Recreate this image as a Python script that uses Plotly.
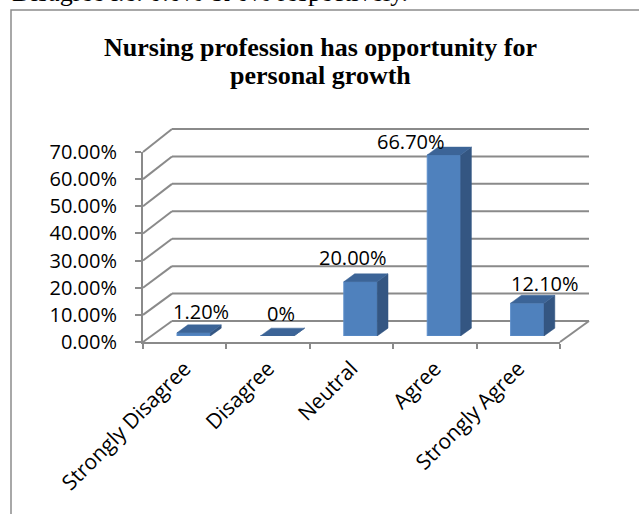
import plotly.graph_objects as go

# ---------------- data ----------------
categories = ["Strongly Disagree", "Disagree", "Neutral", "Agree", "Strongly Agree"]
values = [0.012, 0.0, 0.20, 0.667, 0.121]
value_labels = ["1.20%", "0%", "20.00%", "66.70%", "12.10%"]
y_ticks = [0.0, 0.1, 0.2, 0.3, 0.4, 0.5, 0.6, 0.7]
title_lines = ["Nursing profession has opportunity for", "personal growth"]
top_text = "Disagree i.e. 0.0% & 0% respectively."

# ---------------- style / layout geometry (pixels) ----------------
W, H = 639, 514
FRONT_X = (143, 560); FRONT_Y = (342, 152)   # front plane: x range, y(0) -> y(0.7)
BAR_X = (152, 569);   BAR_Y = (336, 146)     # plane where bar front faces sit
BACK_X = (172, 589);  BACK_Y = (321, 129)    # back wall
YMAX = 0.7
DEPTH_DX = 0.13      # bar depth in category units
DEPTH_DY = 0.029     # bar depth in value units
BAR_W = 0.4
label_xshift = [7, 4, -8, -33, 18]
label_yshift = [21, 23, 24, 13, 20]

GRID = "#8A8A8A"
FRONT = "#4F81BD"
TOP = "#3C6497"
SIDE = "#345682"
SANS = "Open Sans"
SERIF = "Liberation Serif"


def fx(p):
    return p / W


def fy(p):
    return 1 - p / H


def plane_y(plane, v):
    y0, y1 = plane
    return y0 + (y1 - y0) * v / YMAX


fig = go.Figure()

# front faces of the bars
xs = list(range(len(categories)))
fig.add_trace(go.Bar(x=xs, y=values, width=BAR_W, xaxis="x2", yaxis="y2",
                     marker=dict(color=FRONT, line=dict(color="#5E8FCB", width=1)),
                     showlegend=False, hoverinfo="skip"))

# side and top faces
for i, v in zip(xs, values):
    r = i + BAR_W / 2
    l = i - BAR_W / 2
    fig.add_trace(go.Scatter(
        x=[r, r + DEPTH_DX, r + DEPTH_DX, r, r],
        y=[0, DEPTH_DY, v + DEPTH_DY, v, 0],
        fill="toself", fillcolor=SIDE, mode="lines",
        line=dict(color=SIDE, width=0.5), xaxis="x2", yaxis="y2",
        showlegend=False, hoverinfo="skip"))
    fig.add_trace(go.Scatter(
        x=[l, r, r + DEPTH_DX, l + DEPTH_DX, l],
        y=[v, v, v + DEPTH_DY, v + DEPTH_DY, v],
        fill="toself", fillcolor=TOP, mode="lines",
        line=dict(color=TOP, width=0.5), xaxis="x2", yaxis="y2",
        showlegend=False, hoverinfo="skip"))

# invisible trace to carry the front category axis
fig.add_trace(go.Scatter(x=categories, y=[0] * len(categories), mode="markers",
                         marker=dict(size=1, opacity=0), xaxis="x", yaxis="y",
                         showlegend=False, hoverinfo="skip"))

shapes = []
# back wall gridlines and side-wall diagonals
for t in y_ticks:
    yb = plane_y(BACK_Y, t)
    yf = plane_y(FRONT_Y, t)
    shapes.append(dict(type="line", xref="paper", yref="paper",
                       x0=fx(BACK_X[0]), x1=fx(BACK_X[1]), y0=fy(yb), y1=fy(yb),
                       line=dict(color=GRID, width=2), layer="below"))
    shapes.append(dict(type="line", xref="paper", yref="paper",
                       x0=fx(FRONT_X[0]), x1=fx(BACK_X[0]), y0=fy(yf), y1=fy(yb),
                       line=dict(color=GRID, width=2), layer="below"))
# floor right edge
shapes.append(dict(type="line", xref="paper", yref="paper",
                   x0=fx(FRONT_X[1]), x1=fx(BACK_X[1]),
                   y0=fy(plane_y(FRONT_Y, 0)), y1=fy(plane_y(BACK_Y, 0)),
                   line=dict(color=GRID, width=2), layer="below"))
# chart border
shapes.append(dict(type="rect", xref="paper", yref="paper",
                   x0=fx(11), x1=fx(W + 20), y0=fy(H + 20), y1=fy(10),
                   line=dict(color="#8C8C8C", width=1.5), layer="below"))

annotations = []
for i, (v, lab, dx, dy) in enumerate(zip(values, value_labels, label_xshift, label_yshift)):
    annotations.append(dict(x=i, y=v, xref="x2", yref="y2", text=lab, showarrow=False,
                            xanchor="center", yanchor="middle", xshift=dx, yshift=dy,
                            font=dict(family=SANS, size=20, color="#000000")))
for line, ypix in zip(title_lines, [47, 75]):
    annotations.append(dict(x=fx(320), y=fy(ypix), xref="paper", yref="paper",
                            text="<b>" + line + "</b>", showarrow=False,
                            xanchor="center", yanchor="middle",
                            font=dict(family=SERIF, size=26, color="#000000")))
annotations.append(dict(x=fx(10), y=fy(9), xref="paper", yref="paper", text=top_text,
                        showarrow=False, xanchor="left", yanchor="bottom",
                        font=dict(family=SERIF, size=26, color="#000000")))

fig.update_layout(
    width=W, height=H, autosize=False,
    margin=dict(l=0, r=0, t=0, b=0, pad=0, autoexpand=False),
    paper_bgcolor="white", plot_bgcolor="rgba(0,0,0,0)",
    shapes=shapes, annotations=annotations, showlegend=False,
    xaxis=dict(domain=[fx(FRONT_X[0]), fx(FRONT_X[1])], type="category",
               categoryorder="array", categoryarray=categories, range=[-0.5, 4.5],
               showline=True, linecolor=GRID, linewidth=2,
               ticks="outside", tickson="boundaries", ticklen=5, tickwidth=2, tickcolor=GRID,
               tickangle=-45, ticklabelstandoff=4,
               tickfont=dict(family=SANS, size=21, color="#000000"),
               showgrid=False, zeroline=False, anchor="y", fixedrange=True,
               automargin=False),
    yaxis=dict(domain=[fy(FRONT_Y[0]), fy(FRONT_Y[1])], range=[0, YMAX],
               tickvals=y_ticks, tickformat=".2%",
               showline=True, linecolor=GRID, linewidth=2,
               ticks="outside", ticklen=6, tickwidth=2, tickcolor=GRID,
               ticklabelstandoff=14,
               tickfont=dict(family=SANS, size=20, color="#000000"),
               showgrid=False, zeroline=False, anchor="x", fixedrange=True,
               automargin=False),
    xaxis2=dict(domain=[fx(BAR_X[0]), fx(BAR_X[1])], range=[-0.5, 4.5], visible=False,
                anchor="y2", fixedrange=True, automargin=False),
    yaxis2=dict(domain=[fy(BAR_Y[0]), fy(BAR_Y[1])], range=[0, YMAX], visible=False,
                anchor="x2", fixedrange=True, automargin=False),
)

fig.write_html("out.html",
               config={"displayModeBar": False},
               post_script="document.body.style.margin='0';document.body.style.overflow='hidden';")
